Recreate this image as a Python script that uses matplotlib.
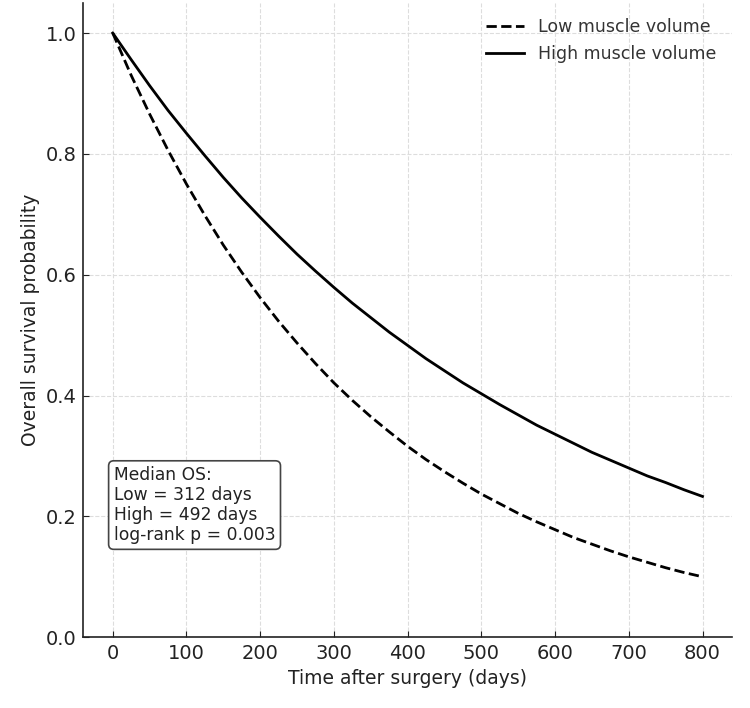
import matplotlib
matplotlib.use("Agg")
import matplotlib.pyplot as plt

# survival curves (days, probability)
days = [0, 25, 50, 75, 100, 125, 150, 175, 200, 225, 250, 275, 300, 325, 350,
        375, 400, 425, 450, 475, 500, 525, 550, 575, 600, 625, 650, 675, 700,
        725, 750, 775, 800]
low_surv = [1.000, 0.930, 0.866, 0.806, 0.750, 0.698, 0.649, 0.604, 0.562, 0.523,
            0.487, 0.453, 0.421, 0.392, 0.365, 0.340, 0.316, 0.294, 0.274, 0.255,
            0.237, 0.221, 0.205, 0.191, 0.178, 0.165, 0.154, 0.143, 0.133, 0.124,
            0.115, 0.107, 0.100]
high_surv = [1.000, 0.956, 0.913, 0.872, 0.834, 0.797, 0.761, 0.727, 0.695, 0.664,
             0.634, 0.606, 0.579, 0.553, 0.529, 0.505, 0.483, 0.461, 0.441, 0.421,
             0.403, 0.385, 0.368, 0.351, 0.336, 0.321, 0.306, 0.293, 0.280, 0.267,
             0.256, 0.244, 0.233]

labels = ["Low muscle volume", "High muscle volume"]
x_ticks = [0, 100, 200, 300, 400, 500, 600, 700, 800]
y_ticks = [0.0, 0.2, 0.4, 0.6, 0.8, 1.0]
note = "Median OS:\nLow = 312 days\nHigh = 492 days\nlog-rank p = 0.003"

fig = plt.figure(figsize=(7.5, 7.08), dpi=100)
ax = fig.add_axes([0.111, 0.100, 0.865, 0.896])

ax.plot(days, low_surv, color="black", lw=2, ls="--", label=labels[0])
ax.plot(days, high_surv, color="black", lw=2, ls="-", label=labels[1])

ax.set_xlim(-40, 840)
ax.set_ylim(0, 1.05)
ax.set_xticks(x_ticks)
ax.set_yticks(y_ticks)
ax.tick_params(labelsize=14, colors="#222222", direction="in", length=4, pad=5)
ax.grid(True, ls="--", color="#dddddd", lw=0.8)
ax.set_axisbelow(True)

for s in ["top", "right"]:
    ax.spines[s].set_visible(False)
ax.spines["left"].set_color("#222222")
ax.spines["bottom"].set_color("#222222")
ax.spines["left"].set_linewidth(1.2)
ax.spines["bottom"].set_linewidth(1.2)

ax.set_xlabel("Time after surgery (days)", fontsize=13.5, color="#222222")
ax.set_ylabel("Overall survival probability", fontsize=13.5, color="#222222")

leg = ax.legend(loc="upper right", frameon=False, fontsize=12.5, handlelength=2.2)
for t in leg.get_texts():
    t.set_color("#333333")

ax.text(0.047, 0.27, note, transform=ax.transAxes, fontsize=12.3, va="top",
        ha="left", color="#222222", linespacing=1.15,
        bbox=dict(boxstyle="round,pad=0.3", fc="white", ec="#444444", lw=1.2))

fig.savefig("out.png", dpi=100)
